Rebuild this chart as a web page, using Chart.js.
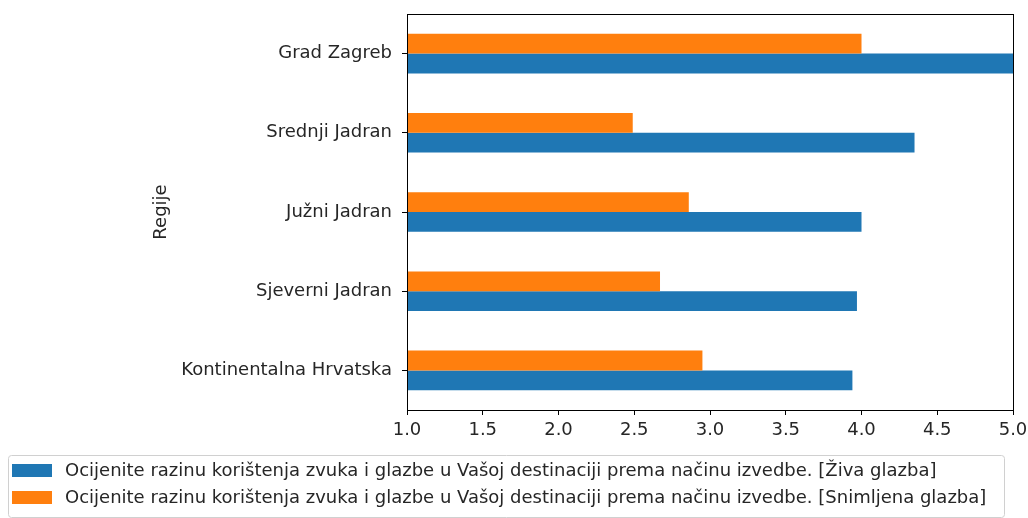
<!DOCTYPE html>
<html lang="hr">
<head>
  <meta charset="UTF-8" />
  <title>Regije</title>
  <script src="https://cdn.jsdelivr.net/npm/chart.js"></script>
  <style>
    body { margin: 0; background: #fff; }
    canvas { display: block; }
  </style>
</head>
<body>
  <canvas id="regionChart" width="1028" height="518"></canvas>

  <script>
    // Regions, bottom to top as in the original plot.
    const regions = [
      "Kontinentalna Hrvatska",
      "Sjeverni Jadran",
      "Južni Jadran",
      "Srednji Jadran",
      "Grad Zagreb"
    ];
    const livePerformance = [3.94, 3.97, 4.0, 4.35, 5.0];
    const recordedMusic = [2.95, 2.67, 2.86, 2.49, 4.0];
    const liveLabel = "Ocijenite razinu korištenja zvuka i glazbe u Vašoj destinaciji prema načinu izvedbe. [Živa glazba]";
    const recordedLabel = "Ocijenite razinu korištenja zvuka i glazbe u Vašoj destinaciji prema načinu izvedbe. [Snimljena glazba]";
    const xTicks = [1.0, 1.5, 2.0, 2.5, 3.0, 3.5, 4.0, 4.5, 5.0];

    const font = "DejaVu Sans";
    const fontSize = 18;

    // Box around the plot plus the legend under it (matplotlib look).
    const framePlugin = {
      id: "frame",
      afterDatasetsDraw(chart) {
        const { ctx, chartArea } = chart;
        ctx.save();
        ctx.strokeStyle = "#000";
        ctx.lineWidth = 1;
        ctx.strokeRect(chartArea.left + 0.5, chartArea.top + 0.5,
          chartArea.right - chartArea.left, chartArea.bottom - chartArea.top);
        ctx.restore();
      },
      afterDraw(chart) {
        const ctx = chart.ctx;
        const x = 8, y = 455, w = 996, h = 62;
        ctx.save();
        ctx.fillStyle = "#fff";
        ctx.strokeStyle = "#d0d0d0";
        ctx.lineWidth = 1;
        ctx.beginPath();
        ctx.roundRect(x + 0.5, y + 0.5, w, h, 3);
        ctx.fill();
        ctx.stroke();
        ctx.font = fontSize + "px '" + font + "'";
        ctx.textBaseline = "middle";
        // legend lists the live series first, like the original
        const items = chart.data.datasets.slice().reverse();
        items.forEach((ds, i) => {
          const cy = 470 + i * 27;
          ctx.fillStyle = ds.backgroundColor;
          ctx.fillRect(12, cy - 6, 40, 13);
          ctx.fillStyle = "#262626";
          ctx.fillText(ds.label, 65, cy + 1);
        });
        ctx.restore();
      }
    };

    new Chart(document.getElementById("regionChart"), {
      type: "bar",
      data: {
        labels: regions,
        datasets: [
          {
            label: recordedLabel,
            data: recordedMusic,
            backgroundColor: "#ff7f0e"
          },
          {
            label: liveLabel,
            data: livePerformance,
            backgroundColor: "#1f77b4"
          }
        ]
      },
      options: {
        indexAxis: "y",
        responsive: false,
        devicePixelRatio: 1,
        animation: false,
        categoryPercentage: 0.5,
        barPercentage: 1.0,
        layout: { padding: { left: 151, right: 15, top: 14, bottom: 76 } },
        plugins: {
          legend: { display: false },
          tooltip: { enabled: false }
        },
        scales: {
          x: {
            min: 1,
            max: 5,
            afterFit: (s) => {
              s.height = 32;
              s.paddingLeft = 0;
              s.paddingRight = 0;
            },
            afterBuildTicks: (s) => { s.ticks = xTicks.map((v) => ({ value: v })); },
            ticks: {
              color: "#262626",
              padding: 5,
              font: { family: font, size: fontSize },
              callback: (v) => Number(v).toFixed(1)
            },
            grid: { drawOnChartArea: false, color: "#000", tickLength: 5 },
            border: { color: "#000" }
          },
          y: {
            reverse: true,
            afterFit: (s) => {
              s.width = 256;
              s.paddingTop = 0;
              s.paddingBottom = 0;
            },
            title: {
              display: true,
              text: "Regije",
              color: "#262626",
              padding: 0,
              font: { family: font, size: fontSize }
            },
            ticks: {
              color: "#262626",
              padding: 10,
              font: { family: font, size: fontSize }
            },
            grid: { drawOnChartArea: false, offset: false, color: "#000", tickLength: 5 },
            border: { color: "#000" }
          }
        }
      },
      plugins: [framePlugin]
    });
  </script>
</body>
</html>
